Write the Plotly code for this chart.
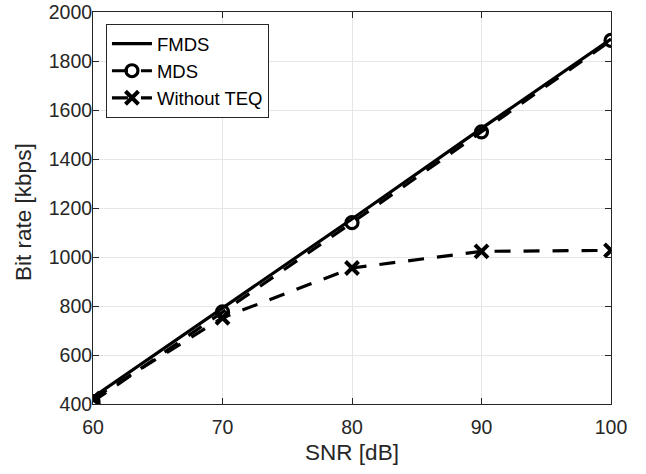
import plotly.graph_objects as go

snr = [60, 70, 80, 90, 100]
fmds = [428, 790, 1155, 1525, 1890]
mds = [410, 776, 1140, 1511, 1884]
without_teq = [422, 752, 955, 1023, 1027]
y_ticks = [400, 600, 800, 1000, 1200, 1400, 1600, 1800, 2000]
x_ticks = [60, 70, 80, 90, 100]

FONT = "Liberation Sans, Arial, Helvetica"
DASH = "16px,13px"

fig = go.Figure()
fig.add_trace(go.Scatter(x=snr, y=fmds, mode="lines", name="FMDS",
                         line=dict(color="black", width=3.2)))
fig.add_trace(go.Scatter(x=snr, y=mds, mode="lines+markers", name="MDS",
                         line=dict(color="black", width=3.2, dash=DASH),
                         marker=dict(symbol="circle-open", size=12, color="black",
                                     line=dict(width=3.2, color="black"))))
fig.add_trace(go.Scatter(x=snr, y=without_teq, mode="lines+markers", name="Without TEQ",
                         line=dict(color="black", width=3.2, dash=DASH),
                         marker=dict(symbol="x-thin-open", size=13, color="black",
                                     line=dict(width=4, color="black"))))

axis_common = dict(showline=True, linecolor="#262626", linewidth=1, mirror="ticks",
                   ticks="inside", ticklen=6, tickcolor="#262626", automargin=False,
                   ticklabeloverflow="allow",
                   showgrid=True, gridcolor="#e6e6e6", gridwidth=1, zeroline=False,
                   tickfont=dict(family=FONT, size=19.5, color="#262626"),
                   title_font=dict(family=FONT, size=22.5, color="#262626"))

fig.update_xaxes(range=[60, 100], tickvals=x_ticks, title_text="SNR [dB]",
                 ticklabelstandoff=6, title_standoff=6, **axis_common)
fig.update_yaxes(range=[400, 2000], tickvals=y_ticks,
                 ticklabelstandoff=-4, **axis_common)

fig.add_annotation(text="Bit rate [kbps]", textangle=-90, showarrow=False,
                   xref="paper", yref="paper", x=-0.1332, y=0.49,
                   xanchor="center", yanchor="middle",
                   font=dict(family=FONT, size=22.5, color="#262626"))

fig.update_layout(
    width=646, height=474,
    margin=dict(l=93, r=35, t=12, b=70, autoexpand=False),
    paper_bgcolor="white", plot_bgcolor="white",
    showlegend=True,
    legend=dict(x=0.025, y=0.969, xanchor="left", yanchor="top",
                bgcolor="white", bordercolor="#262626", borderwidth=1,
                font=dict(family=FONT, size=18.5, color="black"),
                itemwidth=40, tracegroupgap=0),
)

fig.write_html("out.html", config={"displayModeBar": False},
               post_script="document.body.style.margin='0';")
